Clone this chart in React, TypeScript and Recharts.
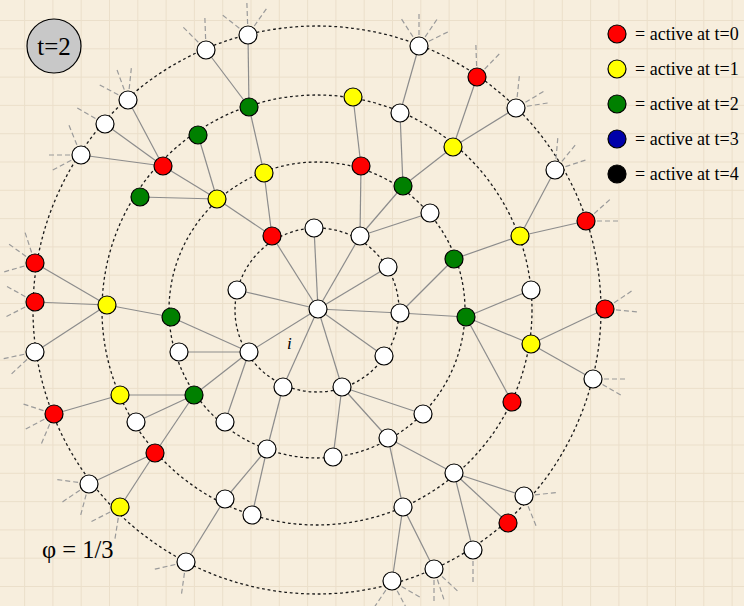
import React from 'react';
import { ScatterChart, Scatter, XAxis, YAxis, CartesianGrid, Customized } from 'recharts';

type N = { id: string; x: number; y: number; t: number | null };

// activation time t (null = never active in this snapshot)
const centerNode: N[] = [{ id: 'C', x: 318, y: 309, t: null }];

const ring1: N[] = [
  { id: 'a1', x: 272, y: 236, t: 0 },
  { id: 'a2', x: 314, y: 228, t: null },
  { id: 'a3', x: 360, y: 236, t: null },
  { id: 'a4', x: 388, y: 267, t: null },
  { id: 'a5', x: 400, y: 313, t: null },
  { id: 'a6', x: 384, y: 356, t: null },
  { id: 'a7', x: 342, y: 387, t: null },
  { id: 'a8', x: 283, y: 387, t: null },
  { id: 'a9', x: 249, y: 352, t: null },
  { id: 'a10', x: 237, y: 290, t: null },
];

const ring2: N[] = [
  { id: 'b1', x: 217, y: 199, t: 1 },
  { id: 'b2', x: 264, y: 173, t: 1 },
  { id: 'b3', x: 361, y: 166, t: 0 },
  { id: 'b4', x: 403, y: 186, t: 2 },
  { id: 'b5', x: 430, y: 213, t: null },
  { id: 'b6', x: 454, y: 259, t: 2 },
  { id: 'b7', x: 466, y: 317, t: 2 },
  { id: 'b8', x: 423, y: 414, t: null },
  { id: 'b9', x: 388, y: 438, t: null },
  { id: 'b10', x: 333, y: 457, t: null },
  { id: 'b11', x: 267, y: 449, t: null },
  { id: 'b12', x: 225, y: 422, t: null },
  { id: 'b13', x: 194, y: 395, t: 2 },
  { id: 'b14', x: 179, y: 352, t: null },
  { id: 'b15', x: 171, y: 317, t: 2 },
];

const ring3: N[] = [
  { id: 'c1', x: 140, y: 197, t: 2 },
  { id: 'c2', x: 163, y: 166, t: 0 },
  { id: 'c3', x: 198, y: 135, t: 2 },
  { id: 'c4', x: 249, y: 107, t: 2 },
  { id: 'c5', x: 353, y: 97, t: 1 },
  { id: 'c6', x: 400, y: 113, t: null },
  { id: 'c7', x: 453, y: 147, t: 1 },
  { id: 'c8', x: 520, y: 236, t: 1 },
  { id: 'c9', x: 531, y: 290, t: null },
  { id: 'c10', x: 531, y: 344, t: 1 },
  { id: 'c11', x: 512, y: 402, t: 0 },
  { id: 'c12', x: 454, y: 473, t: null },
  { id: 'c13', x: 403, y: 507, t: null },
  { id: 'c14', x: 252, y: 515, t: null },
  { id: 'c15', x: 225, y: 499, t: null },
  { id: 'c16', x: 155, y: 453, t: 0 },
  { id: 'c17', x: 136, y: 422, t: null },
  { id: 'c18', x: 120, y: 395, t: 1 },
  { id: 'c19', x: 107, y: 305, t: 1 },
];

const ring4: N[] = [
  { id: 'd1', x: 81, y: 155, t: null },
  { id: 'd2', x: 105, y: 124, t: null },
  { id: 'd3', x: 128, y: 100, t: null },
  { id: 'd4', x: 206, y: 50, t: null },
  { id: 'd5', x: 248, y: 35, t: null },
  { id: 'd6', x: 419, y: 46, t: null },
  { id: 'd7', x: 477, y: 77, t: 0 },
  { id: 'd8', x: 516, y: 108, t: null },
  { id: 'd9', x: 555, y: 170, t: null },
  { id: 'd10', x: 586, y: 221, t: 0 },
  { id: 'd11', x: 605, y: 309, t: 0 },
  { id: 'd12', x: 593, y: 379, t: null },
  { id: 'd13', x: 524, y: 496, t: null },
  { id: 'd14', x: 508, y: 523, t: 0 },
  { id: 'd15', x: 473, y: 550, t: null },
  { id: 'd16', x: 434, y: 569, t: null },
  { id: 'd17', x: 392, y: 581, t: null },
  { id: 'd18', x: 186, y: 562, t: null },
  { id: 'd19', x: 120, y: 507, t: 1 },
  { id: 'd20', x: 89, y: 484, t: null },
  { id: 'd21', x: 54, y: 414, t: 0 },
  { id: 'd22', x: 35, y: 352, t: null },
  { id: 'd23', x: 35, y: 302, t: 0 },
  { id: 'd24', x: 35, y: 263, t: 0 },
];

const edges: [string, string][] = [
  ['C', 'a1'], ['C', 'a2'], ['C', 'a3'], ['C', 'a4'], ['C', 'a5'],
  ['C', 'a6'], ['C', 'a7'], ['C', 'a8'], ['C', 'a9'], ['C', 'a10'],
  ['a1', 'b1'], ['a1', 'b2'], ['a3', 'b3'], ['a3', 'b4'], ['a3', 'b5'],
  ['a5', 'b6'], ['a5', 'b7'], ['a7', 'b8'], ['a7', 'b9'], ['a7', 'b10'],
  ['a8', 'b11'], ['a9', 'b12'], ['a9', 'b13'], ['a9', 'b14'], ['a9', 'b15'],
  ['b1', 'c1'], ['b1', 'c2'], ['b1', 'c3'], ['b2', 'c4'], ['b3', 'c5'],
  ['b4', 'c6'], ['b4', 'c7'], ['b6', 'c8'], ['b7', 'c9'], ['b7', 'c10'],
  ['b7', 'c11'], ['b9', 'c12'], ['b9', 'c13'], ['b11', 'c14'], ['b11', 'c15'],
  ['b13', 'c16'], ['b13', 'c17'], ['b13', 'c18'], ['b15', 'c19'],
  ['c2', 'd1'], ['c2', 'd2'], ['c2', 'd3'], ['c4', 'd4'], ['c4', 'd5'],
  ['c6', 'd6'], ['c7', 'd7'], ['c7', 'd8'], ['c8', 'd9'], ['c8', 'd10'],
  ['c10', 'd11'], ['c10', 'd12'], ['c12', 'd13'], ['c12', 'd14'], ['c12', 'd15'],
  ['c13', 'd16'], ['c13', 'd17'], ['c15', 'd18'], ['c16', 'd19'], ['c16', 'd20'],
  ['c18', 'd21'], ['c19', 'd22'], ['c19', 'd23'], ['c19', 'd24'],
];

// dangling links leaving the drawing (direction in degrees, counter-clockwise from east)
const stubs: [string, number[]][] = [
  ['d1', [112, 180, 208]], ['d2', [150]], ['d3', [84, 110, 152]],
  ['d4', [92, 135]], ['d5', [55, 92, 142]], ['d6', [26, 56, 90, 123]],
  ['d7', [46, 92]], ['d8', [9, 31, 84]], ['d9', [18, 51, 85]],
  ['d10', [0, 42]], ['d11', [34, 355]], ['d12', [0, 330]],
  ['d13', [6, 292]], ['d15', [270]], ['d16', [270, 288, 317]],
  ['d17', [236, 298, 330]], ['d18', [193, 262]], ['d19', [207, 261]],
  ['d20', [172, 214, 255]], ['d21', [162, 208, 247]], ['d22', [192, 223]],
  ['d23', [151, 207]], ['d24', [108, 144, 196]],
];

const ringRadii = [82, 148, 215, 284];
const ringCenter = { x: 317, y: 310 };

const legendTimes = [0, 1, 2, 3, 4];
const legendLabels = ['= active at t=0', '= active at t=1', '= active at t=2', '= active at t=3', '= active at t=4'];
const stateColors = ['#ff0000', '#ffff00', '#008000', '#0000aa', '#000000'];
const currentTimeLabel = 't=2';
const phiLabel = 'φ = 1/3';

const W = 744;
const H = 606;
const SERIF = '"Liberation Serif", "Times New Roman", "DejaVu Serif", serif';
const serifStyle = { fontFamily: SERIF };

const allNodes: N[] = [...centerNode, ...ring1, ...ring2, ...ring3, ...ring4];
const byId: Record<string, N> = Object.fromEntries(allNodes.map((n) => [n.id, n]));

const gridStep = 28.3;
const vPoints: number[] = [];
for (let x = 24.6; x < W; x += gridStep) vPoints.push(x);
const hPoints: number[] = [];
for (let y = 20.5; y < H; y += gridStep) hPoints.push(y);

const nodeFill = (t: number | null) => (t === null ? '#ffffff' : stateColors[t]);

const NodeShape = (props: any) => {
  const { cx, cy, payload } = props;
  if (cx == null || cy == null) return <g />;
  return <circle cx={cx} cy={cy} r={9} fill={nodeFill(payload.t)} stroke="#000" strokeWidth={1.2} />;
};

const NoShape = () => <g />;

const Rings = (props: any) => {
  const xs = props.xAxisMap ? (Object.values(props.xAxisMap)[0] as any)?.scale : null;
  const ys = props.yAxisMap ? (Object.values(props.yAxisMap)[0] as any)?.scale : null;
  const cx = xs ? xs(ringCenter.x) : ringCenter.x;
  const cy = ys ? ys(ringCenter.y) : ringCenter.y;
  return (
    <g>
      {ringRadii.map((r) => (
        <circle key={r} cx={cx} cy={cy} r={r} fill="none" stroke="#1a1a1a" strokeWidth={1.3} strokeDasharray="2.8 2.8" />
      ))}
    </g>
  );
};

const Decorations = () => (
  <g>
    <circle cx={54} cy={46} r={27} fill="#c8c8c8" stroke="#000" strokeWidth={1.2} />
    <text x={54} y={55} textAnchor="middle" fontSize={25} fill="#000" fontFamily={SERIF} style={serifStyle}>{currentTimeLabel}</text>
    <text x={42} y={558} fontSize={24.5} fill="#000" fontFamily={SERIF} style={serifStyle}>{phiLabel}</text>
    <text x={287} y={349} fontSize={17} fontStyle="italic" fill="#000" fontFamily={SERIF} style={serifStyle}>i</text>
    {legendTimes.map((t, i) => (
      <g key={t}>
        <circle cx={617} cy={34 + i * 35} r={9} fill={stateColors[t]} stroke="#000" strokeWidth={1.2} />
        <text x={635} y={39.5 + i * 35} fontSize={18} fill="#000" fontFamily={SERIF} style={serifStyle}>{legendLabels[i]}</text>
      </g>
    ))}
  </g>
);

export default function App() {
  return (
    <div style={{ position: 'absolute', left: 0, top: 0, width: W, height: H, background: '#f7eedd', overflow: 'hidden' }}>
      <ScatterChart width={W} height={H} margin={{ top: 0, right: 0, bottom: 0, left: 0 }}>
        <CartesianGrid verticalPoints={vPoints} horizontalPoints={hPoints} stroke="#ebdfca" strokeWidth={1} />
        <XAxis type="number" dataKey="x" domain={[0, W]} hide allowDataOverflow />
        <YAxis type="number" dataKey="y" domain={[0, H]} reversed hide allowDataOverflow />
        <Customized component={Rings} />
        {stubs.flatMap(([id, angles]) =>
          angles.map((a) => {
            const n = byId[id];
            const rad = (a * Math.PI) / 180;
            const d = [
              { x: n.x + 11 * Math.cos(rad), y: n.y - 11 * Math.sin(rad) },
              { x: n.x + 33 * Math.cos(rad), y: n.y - 33 * Math.sin(rad) },
            ];
            return (
              <Scatter
                key={`s-${id}-${a}`}
                data={d}
                line={{ stroke: '#9a9a9a', strokeWidth: 1.2, strokeDasharray: '5 3' }}
                shape={NoShape}
                isAnimationActive={false}
              />
            );
          })
        )}
        {edges.map(([a, b]) => (
          <Scatter
            key={`e-${a}-${b}`}
            data={[{ x: byId[a].x, y: byId[a].y }, { x: byId[b].x, y: byId[b].y }]}
            line={{ stroke: '#8c8c8c', strokeWidth: 1.2 }}
            shape={NoShape}
            isAnimationActive={false}
          />
        ))}
        <Scatter data={allNodes} shape={NodeShape} isAnimationActive={false} />
        <Customized component={Decorations} />
      </ScatterChart>
    </div>
  );
}
